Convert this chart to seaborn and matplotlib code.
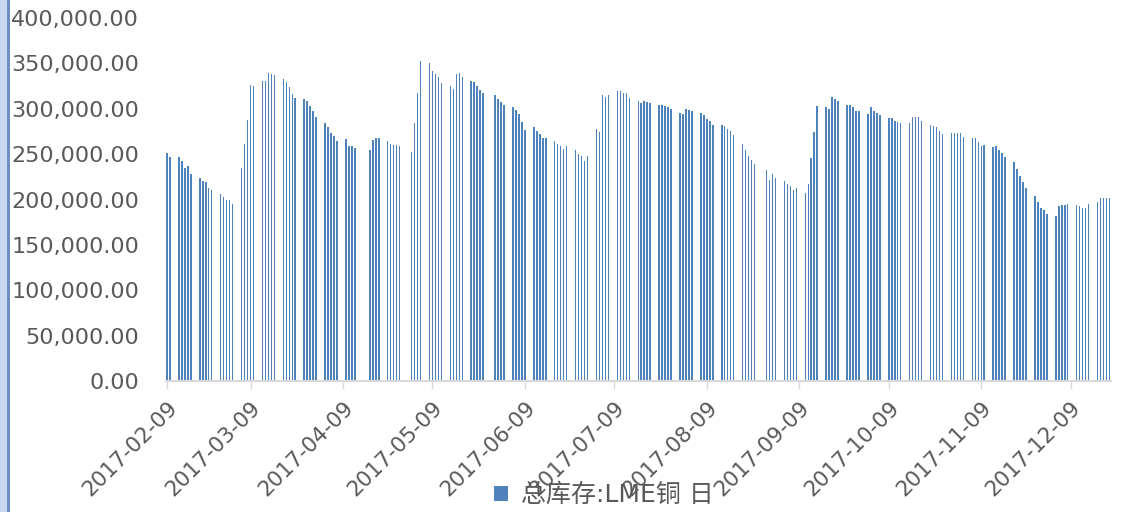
import numpy as np
import pandas as pd
import matplotlib
matplotlib.use("Agg")
import matplotlib.pyplot as plt
from matplotlib.patches import Rectangle, Patch
from matplotlib.ticker import FuncFormatter
import seaborn as sns

# LME trading calendar for the series
start_date = "2017-02-09"
end_date = "2017-12-22"
lme_holidays = ["2017-04-14", "2017-04-17", "2017-05-01", "2017-05-29", "2017-08-28"]

# Daily LME copper total stock (tonnes), one row per trading week
lme_copper_stock = [
    251200, 246800,
    246800, 242400, 235000, 236600, 227700,
    223300, 220400, 218900, 213000, 210100,
    205700, 202700, 199800, 199800, 195400,
    235000, 261500, 288000, 326500, 325000,
    330900, 330900, 339700, 338300, 336800,
    332400, 329500, 323600, 316200, 311800,
    310400, 308900, 303000, 297200, 291200,
    284000, 279600, 273300, 270300, 264800,
    266300, 258600, 258600, 257100,
    254200, 265900, 267400, 267400,
    264500, 261500, 260000, 260000, 258600,
    252700, 284000, 317700, 352900,
    350000, 341300, 338300, 335300, 328000,
    325000, 322100, 338300, 339700, 335300,
    330900, 329500, 325000, 320700, 317700,
    314800, 310400, 307400, 304500,
    301600, 298600, 294200, 285400, 276600,
    279600, 275100, 272200, 267400, 267400,
    264800, 261500, 258600, 255600, 258600,
    254200, 249800, 248300, 242400, 248300,
    277700, 274700, 314800, 313300, 314800,
    319200, 319200, 317700, 317700, 311800,
    308900, 306000, 308900, 307400, 306000,
    304500, 304500, 303000, 301600, 300100,
    295700, 294200, 300100, 298600, 297200,
    295700, 292800, 288400, 286900, 282500,
    282500, 281000, 278100, 275100, 270700,
    261500, 254200, 248300, 243900, 239500,
    232200, 221900, 227700, 223300,
    220400, 217400, 214500, 210100, 213000,
    207200, 217400, 245400, 274700, 302700,
    301600, 300100, 313300, 310400, 308900,
    304500, 304500, 301600, 297200, 297200,
    294200, 301600, 297200, 295700, 292800,
    289800, 289800, 286900, 285400, 284000,
    284000, 291200, 291200, 291200, 286900,
    282500, 281000, 279600, 275100, 272200,
    273600, 273600, 273600, 273600, 269200,
    267800, 267800, 263400, 258600, 260000,
    257500, 258600, 254200, 251200, 246800,
    241000, 233600, 226200, 218900, 213000,
    204200, 196900, 191000, 188100, 183700,
    182200, 192500, 193900, 193900, 195400,
    193900, 192500, 191000, 191000, 195400,
    196900, 201300, 201300, 201300, 201300,
]

tick_dates = ["2017-02-09", "2017-03-09", "2017-04-09", "2017-05-09", "2017-06-09",
              "2017-07-09", "2017-08-09", "2017-09-09", "2017-10-09", "2017-11-09",
              "2017-12-09"]
y_ticks = [0, 50000, 100000, 150000, 200000, 250000, 300000, 350000, 400000]
series_label = "总库存:LME铜 日"

bar_color = "#4F81BD"
text_color = "#595959"
axis_color = "#D9D9D9"

# Build the date axis as day offsets so weekends/holidays stay as gaps
dates = pd.bdate_range(start_date, end_date)
dates = dates[~dates.isin(pd.to_datetime(lme_holidays))]
origin = pd.Timestamp(start_date)
df = pd.DataFrame({"day": (dates - origin).days, "stock": lme_copper_stock})
tick_pos = [(pd.Timestamp(d) - origin).days for d in tick_dates]

sns.set_theme(style="white")
plt.rcParams["font.family"] = ["DejaVu Sans", "Noto Sans CJK SC"]

W, H = 1129, 512
fig = plt.figure(figsize=(W / 100, H / 100), dpi=100)
ax = fig.add_axes([165.5 / W, 1 - 381 / H, (1111 - 165.5) / W, (381 - 18) / H])

sns.barplot(data=df, x="day", y="stock", native_scale=True, width=0.5,
            color=bar_color, saturation=1, errorbar=None, linewidth=0, ax=ax)

ax.set_xlim(-0.5, 316.5)
ax.set_ylim(0, 400000)
ax.set_xlabel("")
ax.set_ylabel("")

ax.set_yticks(y_ticks)
ax.yaxis.set_major_formatter(FuncFormatter(lambda v, p: f"{v:,.2f}"))
ax.tick_params(axis="y", length=0, pad=19, labelsize=16, labelcolor=text_color)

ax.set_xticks(tick_pos)
ax.set_xticklabels(tick_dates, rotation=45, ha="right", va="top",
                   rotation_mode="anchor")
ax.tick_params(axis="x", length=6, width=1, color=axis_color, pad=6,
               labelsize=15.5, labelcolor=text_color, bottom=True)

for side in ("left", "top", "right"):
    ax.spines[side].set_visible(False)
ax.spines["bottom"].set_color(axis_color)
ax.spines["bottom"].set_linewidth(1.5)
ax.grid(False)

# Legend below the axis
handle = Patch(facecolor=bar_color, edgecolor="none")
fig.legend([handle], [series_label], loc="center", bbox_to_anchor=(0.535, 0.033),
           frameon=False, fontsize=18, handlelength=0.55, handleheight=0.55,
           handletextpad=0.5, labelcolor=text_color)

# Window frame strip on the left edge
fig.patches.append(Rectangle((0, 0), 7 / W, 1, transform=fig.transFigure,
                             facecolor="#C6D9F0", edgecolor="none", zorder=0))
fig.patches.append(Rectangle((7 / W, 0), 3 / W, 1, transform=fig.transFigure,
                             facecolor="#6F8FC0", edgecolor="none", zorder=0))

fig.savefig("out.png", dpi=100)
